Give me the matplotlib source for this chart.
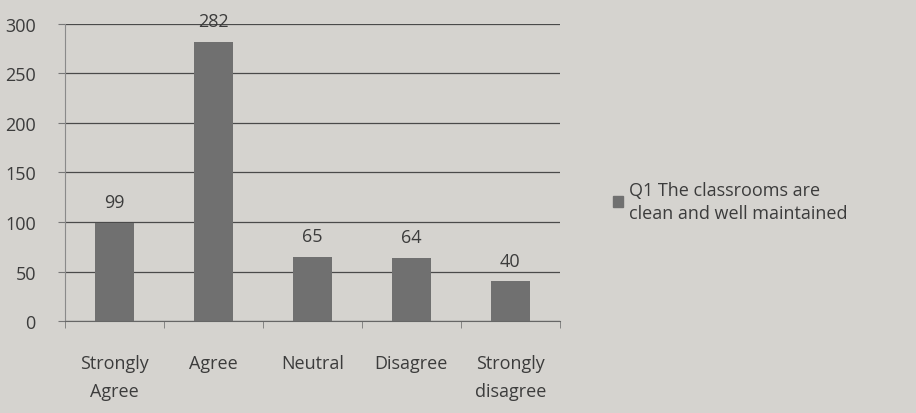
import matplotlib.pyplot as plt
from matplotlib.patches import Patch

# survey responses for Q1
categories = ['Strongly\nAgree', 'Agree', 'Neutral', 'Disagree', 'Strongly\ndisagree']
counts = [99, 282, 65, 64, 40]
yticks = [0, 50, 100, 150, 200, 250, 300]
series_name = 'Q1 The classrooms are\nclean and well maintained'

bg = '#d5d3cf'
barcol = '#707070'
txt = '#3c3c3c'
fs = 13

plt.rcParams['font.family'] = ['Open Sans', 'DejaVu Sans']

fig = plt.figure(figsize=(9.16, 4.14), dpi=100, facecolor=bg)
ax = fig.add_axes([0.071, 0.222, 0.54, 0.718])
ax.set_facecolor(bg)

x = list(range(len(categories)))
ax.bar(x, counts, width=0.39, color=barcol, zorder=3)

for xi, v in zip(x, counts):
    ax.text(xi, v + 12, str(v), ha='center', va='bottom', fontsize=fs, color=txt)

ax.set_xlim(-0.5, len(categories) - 0.5)
ax.set_ylim(0, 300)
ax.set_yticks(yticks)
ax.set_yticklabels([str(t) for t in yticks], fontsize=fs, color=txt)
ax.yaxis.grid(True, color='#4a4a4a', linewidth=0.9, zorder=0)

# category labels at centres, tick marks between categories
ax.set_xticks(x)
ax.set_xticklabels(categories, fontsize=fs, color=txt, linespacing=1.65)
ax.tick_params(axis='x', length=0, pad=24)
ax.set_xticks([i - 0.5 for i in range(len(categories) + 1)], minor=True)
ax.tick_params(axis='x', which='minor', length=5, color='#777777')
ax.tick_params(axis='y', length=5, color='#777777', pad=16)

for side in ['top', 'right']:
    ax.spines[side].set_visible(False)
ax.spines['left'].set_color('#8a8a8a')
ax.spines['bottom'].set_color('#666666')

leg = fig.legend(handles=[Patch(color=barcol)], labels=[series_name],
                 loc='upper left', bbox_to_anchor=(0.652, 0.6), frameon=False,
                 fontsize=fs, labelcolor=txt, handlelength=0.55, handleheight=0.55,
                 handletextpad=0.3)
for t in leg.get_texts():
    t.set_linespacing(1.35)

fig.savefig('out.png', dpi=100, facecolor=bg)
